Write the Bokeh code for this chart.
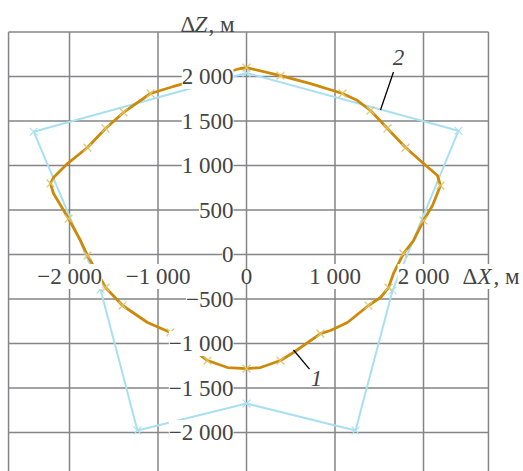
from bokeh.plotting import figure
from bokeh.models import ColumnDataSource, LabelSet, Label
from bokeh.embed import file_html
from bokeh.resources import INLINE

# ---- data ----
# curve 1 (actual trajectory), path points
traj_x = [0, 384, 723, 1085, 1254, 1401, 1593, 1797, 2000, 2158, 2192, 2102, 2000, 1887,
          1774, 1661, 1605, 1514, 1379, 1141, 949, 836, 531, 384, 158, 0, -215, -441,
          -859, -1119, -1401, -1593, -1797, -1876, -2011, -2181, -2215, -2181, -2023,
          -1797, -1593, -1390, -1085, -825, -68]
traj_z = [2100, 2011, 1921, 1809, 1730, 1618, 1416, 1202, 1022, 888, 775, 551, 382, 157,
          11, -213, -371, -483, -573, -764, -854, -888, -1101, -1191, -1270, -1281, -1270, -1191,
          -876, -764, -573, -371, -11, 157, 404, 685, 798, 865, 1022,
          1202, 1416, 1596, 1809, 1888, 2090]
# curve 1 marker points
traj_mx = [0, 384, 1085, 1401, 1593, 1797, 2192, 2000, 1774, 1605, 1379, 836, 384, 0,
           -441, -859, -1401, -1593, -1797, -2011, -2215, -1797, -1593, -1390, -1085]
traj_mz = [2100, 2011, 1809, 1618, 1416, 1202, 775, 382, 11, -371, -573, -888, -1191, -1281,
           -1191, -876, -573, -371, -11, 404, 798, 1202, 1416, 1596, 1809]
# curve 2 (planned polygon) vertices
plan_x = [0, 2395, 1650, 1232, 0, -1232, -1650, -2405]
plan_z = [2040, 1390, -404, -1978, -1674, -1978, -393, 1380]

x_ticks = [-2000, -1000, 0, 1000, 2000]
x_tick_labels = ["\u22122 000", "\u22121 000", "0", "1 000", "2 000"]
z_ticks = [-2000, -1500, -1000, -500, 0, 500, 1000, 1500, 2000]
z_tick_labels = ["\u22122 000", "\u22121 500", "\u22121 000", "\u2212500", "0",
                 "500", "1 000", "1 500", "2 000"]

# curve number callouts
callout_text = ["1", "2"]
callout_x = [791, 1718]
callout_z = [-1388, 2219]
leader1_x = [531, 712]
leader1_z = [-1073, -1287]
leader2_x = [1661, 1514]
leader2_z = [2051, 1624]

FONT = "Liberation Serif"
FS = "23px"
GRID = "#858589"
ORANGE = "#cc8a08"
MARK = "#e0c46c"
BLUE = "#a8e0f2"

X0, X1 = -2780, 3130
Y0, Y1 = -2438, 2854
# plot box edges (grid frame)
BOX_L, BOX_R, BOX_T = -2689, 2734, 2500

p = figure(width=523, height=471, output_backend="svg", toolbar_location=None,
           x_range=(X0, X1), y_range=(Y0, Y1),
           x_axis_type=None, y_axis_type=None,
           min_border_left=0, min_border_right=0, min_border_top=0, min_border_bottom=0)
p.outline_line_color = None
p.background_fill_color = "white"
p.grid.visible = False

# grid lines incl. box borders
vx = [BOX_L] + x_ticks + [BOX_R]
p.segment(x0=vx, y0=[BOX_T] * len(vx), x1=vx, y1=[Y0] * len(vx),
          line_color=GRID, line_width=1.5)
hz = z_ticks + [BOX_T]
p.segment(x0=[BOX_L] * len(hz), y0=hz, x1=[BOX_R] * len(hz), y1=hz,
          line_color=GRID, line_width=1.5)

# curve 2
px = plan_x + plan_x[:1]
pz = plan_z + plan_z[:1]
p.line(px, pz, line_color=BLUE, line_width=2)
p.scatter(plan_x, plan_z, marker="x", size=11, line_color=BLUE, line_width=1.2)

# curve 1
tx = traj_x + traj_x[:1]
tz = traj_z + traj_z[:1]
p.line(tx, tz, line_color=ORANGE, line_width=2.8, line_join="round")
p.scatter(traj_mx, traj_mz, marker="x", size=11, line_color=MARK, line_width=1.4, line_alpha=0.9)

# leaders
p.line(leader1_x, leader1_z, line_color="black", line_width=1.3)
p.line(leader2_x, leader2_z, line_color="black", line_width=1.3)

cs = ColumnDataSource(dict(x=callout_x, y=callout_z, t=callout_text))
p.add_layout(LabelSet(x="x", y="y", text="t", source=cs, text_font=FONT, text_font_size=FS,
                      text_font_style="italic", text_align="center", text_baseline="middle"))

# tick labels
ys = ColumnDataSource(dict(x=[0] * len(z_ticks), y=z_ticks, t=z_tick_labels))
p.add_layout(LabelSet(x="x", y="y", text="t", source=ys, x_offset=-13, y_offset=0,
                      text_font=FONT, text_font_size=FS, text_align="right",
                      text_baseline="middle", background_fill_color="white"))
xs = ColumnDataSource(dict(x=x_ticks, y=[0] * len(x_ticks), t=x_tick_labels))
p.add_layout(LabelSet(x="x", y="y", text="t", source=xs, x_offset=0, y_offset=-22,
                      text_font=FONT, text_font_size=FS, text_align="center",
                      text_baseline="middle", background_fill_color="white"))

# axis titles
for txt, off, style in [("\u0394", -66, "normal"), ("Z", -52, "italic"), (", \u043c", -38, "normal")]:
    p.add_layout(Label(x=0, y=BOX_T, x_offset=off, y_offset=8, text=txt, text_font=FONT,
                       text_font_size=FS, text_font_style=style, text_align="left",
                       text_baseline="alphabetic"))
for txt, off, style in [("\u0394", 39, "normal"), ("X", 54, "italic"), (", \u043c", 70, "normal")]:
    p.add_layout(Label(x=2000, y=0, x_offset=off, y_offset=-22, text=txt, text_font=FONT,
                       text_font_size=FS, text_font_style=style, text_align="left",
                       text_baseline="middle", background_fill_color="white"))

open("out.html", "w").write(file_html(p, INLINE))
